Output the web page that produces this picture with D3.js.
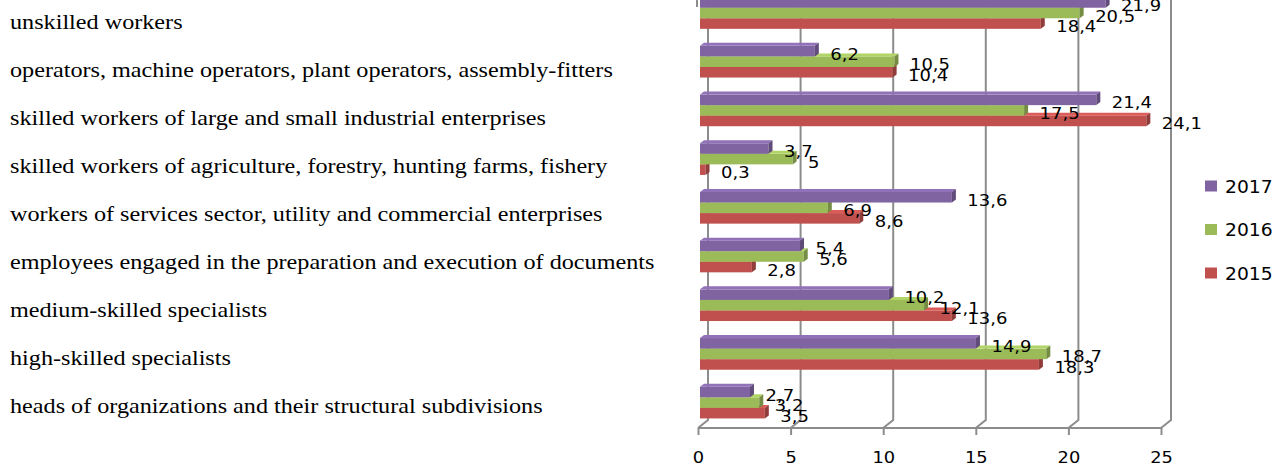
<!DOCTYPE html>
<html>
<head>
<meta charset="utf-8">
<script src="https://cdn.jsdelivr.net/npm/d3@7/dist/d3.min.js"></script>
<style>
  html, body { margin: 0; padding: 0; background: #fff; }
  svg { display: block; }
</style>
</head>
<body>
<svg id="chart" width="1277" height="468"></svg>
<script>
// ---- data ----
const categories = [
  "unskilled workers",
  "operators, machine operators, plant operators, assembly-fitters",
  "skilled workers of large and small industrial enterprises",
  "skilled workers of agriculture, forestry, hunting farms, fishery",
  "workers of services sector, utility and commercial enterprises",
  "employees engaged in the preparation and execution of documents",
  "medium-skilled specialists",
  "high-skilled specialists",
  "heads of organizations and their structural subdivisions"
];
const seriesNames = ["2017", "2016", "2015"];
const values2017 = [21.9, 6.2, 21.4, 3.7, 13.6, 5.4, 10.2, 14.9, 2.7];
const values2016 = [20.5, 10.5, 17.5, 5, 6.9, 5.6, 12.1, 18.7, 3.2];
const values2015 = [18.4, 10.4, 24.1, 0.3, 8.6, 2.8, 13.6, 18.3, 3.5];
const xTicks = [0, 5, 10, 15, 20, 25];

const seriesValues = { "2017": values2017, "2016": values2016, "2015": values2015 };
const colors = { "2017": "#8064A2", "2016": "#9BBB59", "2015": "#C0504D" };

// ---- scales ----
const svg = d3.select("#chart");
const xBar = d3.scaleLinear().domain([0, 25]).range([700, 1163]);
const xFloor = d3.scaleLinear().domain([0, 25]).range([698, 1161]);
const floorY = 428;
const backDx = 10, backDy = -8;

const yGroup = d3.scaleBand().domain(categories)
  .range([-11.35, 426.95]).paddingInner(0.35).paddingOuter(0.175);
const ySeries = d3.scaleBand().domain(seriesNames).range([0, yGroup.bandwidth()]);
const yLabel = d3.scalePoint().domain(categories).range([22, 406]);

// ---- back wall gridlines ----
const grid = svg.append("g");
xTicks.forEach(v => {
  const xf = xFloor(v), xb = xf + backDx;
  grid.append("polyline")
    .attr("points", `${xb},-5 ${xb},${floorY + backDy} ${xf},${floorY}`)
    .attr("fill", "none").attr("stroke", "#8c8c8c").attr("stroke-width", 2);
});
// floor front edge
svg.append("line")
  .attr("x1", xFloor(0)).attr("x2", xFloor(25))
  .attr("y1", floorY).attr("y2", floorY)
  .attr("stroke", "#8c8c8c").attr("stroke-width", 2);
// small piece of side wall edge at the top
svg.append("line")
  .attr("x1", 697).attr("x2", 697).attr("y1", 0).attr("y2", 7)
  .attr("stroke", "#8c8c8c").attr("stroke-width", 2);

// ---- axis ----
const axis = d3.axisBottom(xFloor).tickValues(xTicks).tickSize(7).tickSizeOuter(0)
  .tickFormat(d => String(d));
const axG = svg.append("g").attr("transform", `translate(0,${floorY})`).call(axis);
axG.select(".domain").remove();
axG.selectAll(".tick line").attr("stroke", "#8c8c8c").attr("stroke-width", 2);
axG.selectAll(".tick text")
  .attr("y", 24).attr("fill", "#000")
  .attr("font-family", "DejaVu Sans, Verdana, sans-serif")
  .attr("font-size", 15.5)
  .attr("transform", "scale(1.15,1)");

// ---- bars (3D-ish) ----
const dX = 4, dY = -3;
const bh = ySeries.bandwidth();
const barsG = svg.append("g");
const labels = [];
categories.forEach((cat, i) => {
  const g = barsG.append("g");
  ["2015", "2016", "2017"].forEach(s => {
    const v = seriesValues[s][i];
    const y0 = yGroup(cat) + ySeries(s);
    const x0 = xBar(0), xe = xBar(v);
    const base = d3.color(colors[s]);
    g.append("rect").attr("x", x0).attr("y", y0).attr("width", xe - x0).attr("height", bh)
      .attr("fill", colors[s]);
    g.append("polygon")
      .attr("points", `${x0},${y0} ${xe},${y0} ${xe + dX},${y0 + dY} ${x0 + dX},${y0 + dY}`)
      .attr("fill", base.brighter(0.35));
    g.append("polygon")
      .attr("points", `${xe},${y0} ${xe + dX},${y0 + dY} ${xe + dX},${y0 + bh + dY} ${xe},${y0 + bh}`)
      .attr("fill", base.darker(0.8));
    labels.push({ x: xe + 15.5, y: y0 + bh / 2 + 8.5, t: String(v).replace(".", ",") });
  });
});

// ---- data labels ----
svg.append("g").selectAll("text").data(labels).join("text")
  .attr("transform", d => `translate(${d.x},${d.y}) scale(1.2,1)`)
  .attr("font-family", "DejaVu Sans, Verdana, sans-serif")
  .attr("font-size", 15).attr("fill", "#000")
  .text(d => d.t);

// ---- category labels ----
svg.append("g").selectAll("text").data(categories).join("text")
  .attr("transform", d => `translate(10,${yLabel(d)}) scale(1.18,1)`)
  .attr("dominant-baseline", "central")
  .attr("font-family", "Liberation Serif, Times New Roman, serif")
  .attr("font-size", 20.5).attr("fill", "#000")
  .text(d => d);

// ---- legend ----
const legY = d3.scalePoint().domain(seriesNames).range([186, 273]);
const leg = svg.append("g");
seriesNames.forEach(s => {
  leg.append("rect").attr("x", 1205).attr("y", legY(s) - 5.5).attr("width", 12).attr("height", 11)
    .attr("fill", colors[s]);
  leg.append("text")
    .attr("transform", `translate(1225,${legY(s) + 6.5}) scale(1.1,1)`)
    .attr("font-family", "DejaVu Sans, Verdana, sans-serif")
    .attr("font-size", 17).attr("fill", "#000")
    .text(s);
});
</script>
</body>
</html>
